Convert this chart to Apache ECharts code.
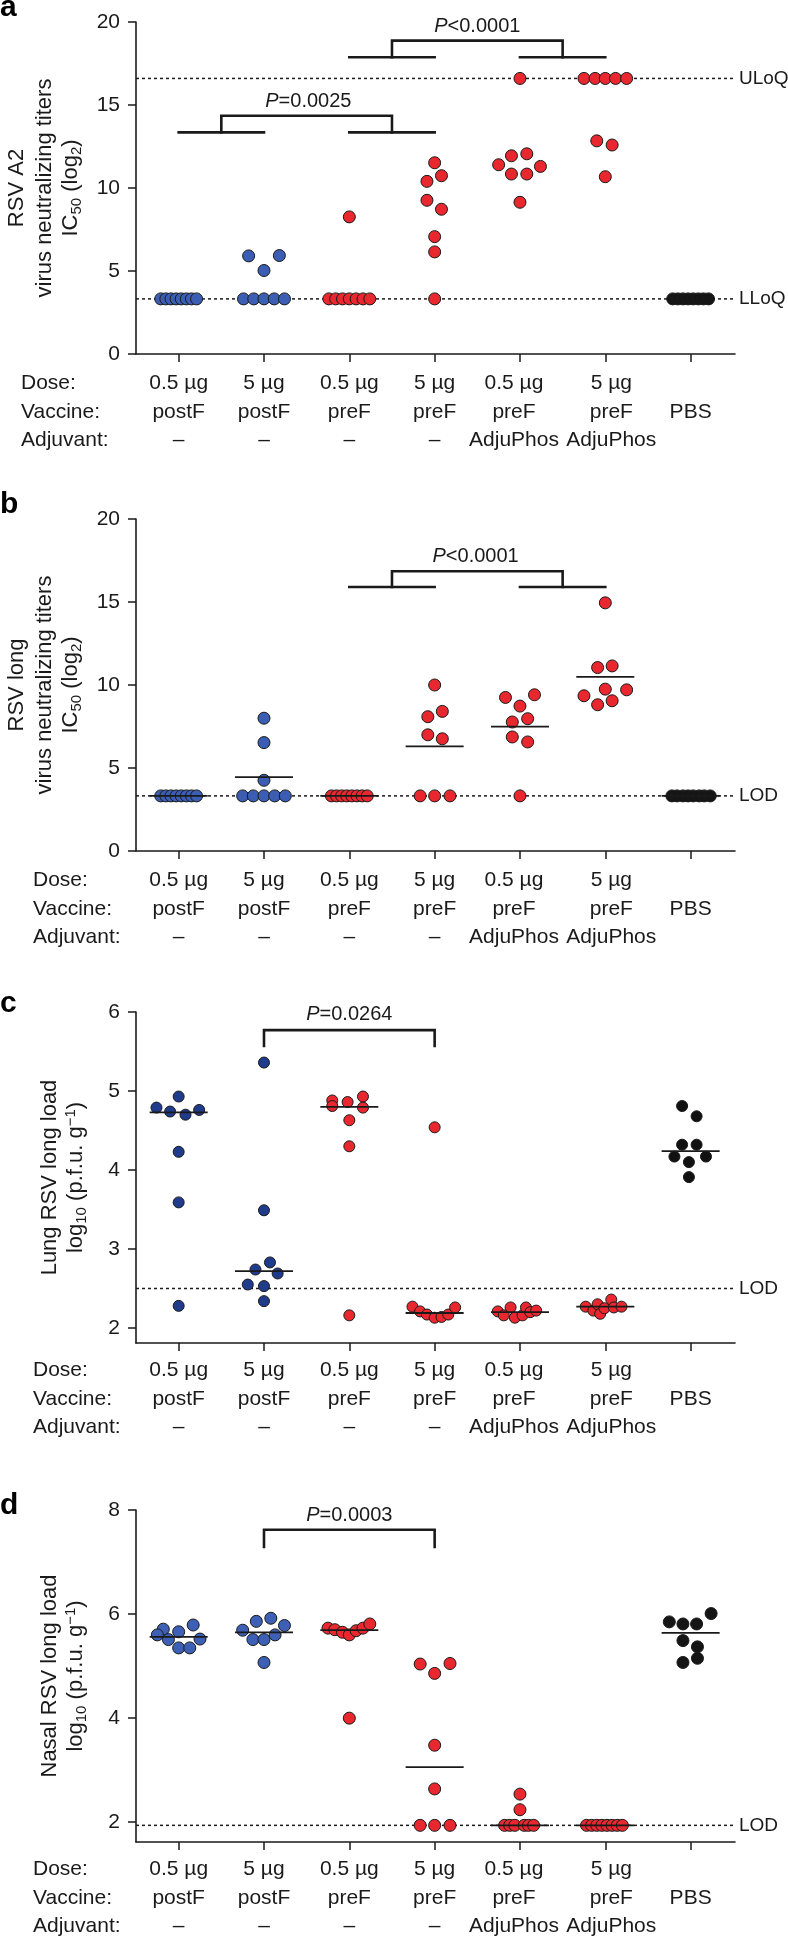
<!DOCTYPE html>
<html><head><meta charset="utf-8">
<script src="https://cdn.jsdelivr.net/npm/echarts@6/dist/echarts.min.js"></script>
<style>html,body{margin:0;padding:0;background:#fff}#c{width:788px;height:1936px}</style>
</head><body><div id="c"></div>
<script>
// ---------------- DATA ----------------
const doseLabels = ['0.5 µg', '5 µg', '0.5 µg', '5 µg', '0.5 µg', '5 µg', ''];
const vaccineLabels = ['postF', 'postF', 'preF', 'preF', 'preF', 'preF', 'PBS'];
const adjuvantLabels = ['–', '–', '–', '–', 'AdjuPhos', 'AdjuPhos', ''];
const rowHeaders = ['Dose:', 'Vaccine:', 'Adjuvant:'];
const groupColorKey = ['blue', 'blue', 'red', 'red', 'red', 'red', 'black'];

// panel a: RSV A2 neutralizing titers (log2)
const LLOQ_A = 3.32, ULOQ_A = 16.6;
const valuesA = [
  [3.32, 3.32, 3.32, 3.32, 3.32, 3.32, 3.32, 3.32],
  [5.91, 5.03, 5.93, 3.32, 3.32, 3.32, 3.32, 3.32],
  [8.26, 3.32, 3.32, 3.32, 3.32, 3.32, 3.32, 3.32],
  [11.52, 10.74, 10.4, 9.26, 8.72, 7.07, 6.15, 3.32],
  [16.6, 11.94, 12.06, 11.4, 10.84, 10.84, 11.3, 9.14],
  [16.6, 16.6, 16.6, 16.6, 16.6, 12.84, 12.59, 10.68],
  [3.32, 3.32, 3.32, 3.32, 3.32, 3.32, 3.32, 3.32]
];
const jitterA = [
  [-0.21, -0.15, -0.09, -0.03, 0.03, 0.09, 0.15, 0.21],
  [-0.18, 0, 0.18, -0.24, -0.12, 0, 0.12, 0.24],
  [0, -0.24, -0.16, -0.08, 0, 0.08, 0.16, 0.24],
  [0, 0.08, -0.09, -0.09, 0.08, 0, 0, 0],
  [0, -0.1, 0.08, -0.25, -0.1, 0.08, 0.24, 0],
  [-0.25, -0.12, 0, 0.12, 0.25, -0.1, 0.08, 0],
  [-0.21, -0.15, -0.09, -0.03, 0.03, 0.09, 0.15, 0.21]
];

// panel b: RSV long neutralizing titers (log2)
const LOD_B = 3.32;
const valuesB = [
  [3.32, 3.32, 3.32, 3.32, 3.32, 3.32, 3.32, 3.32],
  [8.0, 6.53, 4.26, 3.32, 3.32, 3.32, 3.32, 3.32],
  [3.32, 3.32, 3.32, 3.32, 3.32, 3.32, 3.32, 3.32],
  [10.0, 8.41, 8.09, 7.0, 6.76, 3.32, 3.32, 3.32],
  [9.25, 9.41, 8.73, 7.77, 7.97, 6.87, 6.57, 3.32],
  [14.95, 11.05, 11.15, 9.35, 9.75, 9.71, 8.81, 9.05],
  [3.32, 3.32, 3.32, 3.32, 3.32, 3.32, 3.32, 3.32]
];
const jitterB = [
  [-0.21, -0.15, -0.09, -0.03, 0.03, 0.09, 0.15, 0.21],
  [0, 0, 0, -0.25, -0.125, 0, 0.125, 0.25],
  [-0.21, -0.15, -0.09, -0.03, 0.03, 0.09, 0.15, 0.21],
  [0, 0.09, -0.08, -0.08, 0.09, -0.17, 0, 0.18],
  [-0.17, 0.17, 0, -0.09, 0.09, -0.09, 0.09, 0],
  [0, -0.09, 0.08, -0.25, 0, 0.25, -0.09, 0.08],
  [-0.22, -0.16, -0.09, -0.03, 0.03, 0.1, 0.16, 0.23]
];
const meansB = [3.32, 4.45, 3.32, 6.3, 7.49, 10.49, 3.32];

// panel c: lung RSV long load (log10 pfu/g)
const LOD_C = 2.5;
const valuesC = [
  [4.93, 4.79, 4.74, 4.70, 4.76, 4.23, 3.59, 2.28],
  [5.36, 3.49, 2.83, 2.74, 2.69, 2.55, 2.53, 2.34],
  [4.88, 4.81, 4.86, 4.93, 4.79, 4.63, 4.30, 2.16],
  [4.54, 2.27, 2.21, 2.17, 2.13, 2.14, 2.17, 2.26],
  [2.21, 2.16, 2.26, 2.13, 2.16, 2.26, 2.20, 2.22],
  [2.27, 2.22, 2.30, 2.18, 2.25, 2.36, 2.26, 2.27],
  [4.81, 4.68, 4.32, 4.32, 4.17, 4.17, 4.10, 3.91]
];
const jitterC = [
  [0, -0.26, -0.1, 0.08, 0.24, 0, 0, 0],
  [0, 0, 0.07, -0.1, 0.16, -0.19, 0, 0],
  [-0.2, -0.2, -0.02, 0.16, 0.16, 0, 0, 0],
  [0, -0.26, -0.17, -0.09, 0, 0.08, 0.16, 0.24],
  [-0.26, -0.19, -0.11, -0.06, 0.03, 0.07, 0.12, 0.19],
  [-0.23, -0.14, -0.09, -0.06, -0.01, 0.07, 0.1, 0.19],
  [-0.1, 0.07, -0.1, 0.07, -0.19, 0.18, -0.02, -0.02]
];
const mediansC = [4.73, 2.72, 4.80, 2.19, 2.20, 2.27, 4.24];

// panel d: nasal RSV long load (log10 pfu/g)
const LOD_D = 1.94;
const valuesD = [
  [5.71, 5.79, 5.60, 5.66, 5.51, 5.52, 5.35, 5.35],
  [5.86, 5.92, 5.69, 5.78, 5.51, 5.51, 5.60, 5.07],
  [5.73, 5.70, 5.65, 5.60, 5.68, 5.73, 5.81, 4.0],
  [5.04, 5.05, 4.86, 3.48, 2.64, 1.94, 1.94, 1.94],
  [2.54, 2.24, 1.94, 1.94, 1.94, 1.94, 1.94, 1.94],
  [1.94, 1.94, 1.94, 1.94, 1.94, 1.94, 1.94, 1.94],
  [5.85, 5.81, 5.81, 6.01, 5.49, 5.37, 5.07, 5.15]
];
const jitterD = [
  [-0.18, 0.17, -0.25, 0, -0.12, 0.25, 0, 0.13],
  [-0.09, 0.08, -0.25, 0.24, -0.13, 0, 0.13, 0],
  [-0.25, -0.17, -0.08, 0, 0.08, 0.16, 0.24, 0],
  [-0.17, 0.18, 0, 0, 0, -0.17, 0, 0.18],
  [0, 0, -0.18, -0.12, -0.06, 0.05, 0.1, 0.16],
  [-0.22, -0.16, -0.1, -0.04, 0.02, 0.08, 0.14, 0.2],
  [-0.25, -0.09, 0.07, 0.24, -0.09, 0.08, -0.09, 0.08]
];
const mediansD = [5.56, 5.65, 5.69, 3.06, 1.94, 1.94, 5.64];

// y-axis ticks
const yTicksAB = [0, 5, 10, 15, 20];
const yTicksC = [2, 3, 4, 5, 6];
const yTicksD = [2, 4, 6, 8];

// significance brackets (data units: category index, value)
const bracketsA = [
  [[0, 13.35], [1, 13.35]], [[2, 13.35], [3, 13.35]],
  [[0.5, 13.35], [0.5, 14.35], [2.5, 14.35], [2.5, 13.35]],
  [[2, 17.88], [3, 17.88]], [[4, 17.88], [5, 17.88]],
  [[2.5, 17.88], [2.5, 18.88], [4.5, 18.88], [4.5, 17.88]]
];
const pLabelsA = [{x: 1.52, y: 15.2, op: '=', v: '0.0025'}, {x: 3.5, y: 19.75, op: '<', v: '0.0001'}];
const bracketsB = [
  [[2, 15.9], [3, 15.9]], [[4, 15.9], [5, 15.9]],
  [[2.5, 15.9], [2.5, 16.85], [4.5, 16.85], [4.5, 15.9]]
];
const pLabelsB = [{x: 3.48, y: 17.75, op: '<', v: '0.0001'}];
const bracketsC = [[[1, 5.57], [1, 5.77], [3, 5.77], [3, 5.57]]];
const pLabelsC = [{x: 2, y: 5.97, op: '=', v: '0.0264'}];
const bracketsD = [[[1, 7.29], [1, 7.62], [3, 7.62], [3, 7.29]]];
const pLabelsD = [{x: 2, y: 7.9, op: '=', v: '0.0003'}];

// ---------------- STYLE / LAYOUT ----------------
const FONT = '"Liberation Sans", Arial, Helvetica, sans-serif';
const INK = '#1a1a1a';
const PALETTES = [
  {blue: '#3b5db3', red: '#e8272f', black: '#151515'},
  {blue: '#3b5db3', red: '#e8272f', black: '#151515'},
  {blue: '#1f3b8c', red: '#e8272f', black: '#111111'},
  {blue: '#3d60b6', red: '#e8272f', black: '#151515'}
];
const GRID_LEFT = 136, GRID_W = 599;
const X_MIN = -0.5, X_MAX = 6.52;
const ROW_H = 28.5;

const panels = [
  {letter: 'a', top: 22, height: 332, yMin: 0, yMax: 20, ticks: yTicksAB, values: valuesA, jitter: jitterA,
   centers: null, limits: [[ULOQ_A, 'ULoQ'], [LLOQ_A, 'LLoQ']], brackets: bracketsA, pLabels: pLabelsA,
   headerX: 21, margin: 15, letterY: 8, size: 12, titleX: [17, 45, 71],
   title: ['{n|RSV A2}', '{n|virus neutralizing titers}', '{n|IC}{s|50}{n| (log}{s|2}{n|)}']},
  {letter: 'b', top: 519, height: 332, yMin: 0, yMax: 20, ticks: yTicksAB, values: valuesB, jitter: jitterB,
   centers: meansB, limits: [[LOD_B, 'LOD']], brackets: bracketsB, pLabels: pLabelsB,
   headerX: 33, margin: 15, letterY: 505, size: 12, titleX: [17, 45, 71],
   title: ['{n|RSV long}', '{n|virus neutralizing titers}', '{n|IC}{s|50}{n| (log}{s|2}{n|)}']},
  {letter: 'c', top: 1012, height: 331, yMin: 1.81, yMax: 6, ticks: yTicksC, values: valuesC, jitter: jitterC,
   centers: mediansC, limits: [[LOD_C, 'LOD']], brackets: bracketsC, pLabels: pLabelsC,
   headerX: 33, margin: 13, letterY: 1004, size: 11, titleX: [50, 76],
   title: ['{n|Lung RSV long load}', '{n|log}{s|10}{n| (p.f.u. g}{p|−1}{n|)}']},
  {letter: 'd', top: 1510, height: 332, yMin: 1.62, yMax: 8, ticks: yTicksD, values: valuesD, jitter: jitterD,
   centers: mediansD, limits: [[LOD_D, 'LOD']], brackets: bracketsD, pLabels: pLabelsD,
   headerX: 33, margin: 13, letterY: 1506, size: 12, titleX: [50, 76],
   title: ['{n|Nasal RSV long load}', '{n|log}{s|10}{n| (p.f.u. g}{p|−1}{n|)}']}
];

const catIdx = [0, 1, 2, 3, 4, 5, 6];
function xLabelFormatter(value) {
  const k = Math.round(value);
  const t = k === 4 ? 'l' : (k === 5 ? 'r' : 'c');
  const f = s => '{' + t + '|' + (s === '' ? ' ' : s) + '}';
  return [f(doseLabels[k]), f(vaccineLabels[k]), f(adjuvantLabels[k])].join('\n');
}
const lblBase = {fontFamily: FONT, fontSize: 21, color: INK, lineHeight: ROW_H};

const grids = [], xAxes = [], yAxes = [], series = [], graphics = [];
const titleRich = {
  n: {fontFamily: FONT, fontSize: 22, lineHeight: 26, color: INK},
  s: {fontFamily: FONT, fontSize: 15, lineHeight: 12, verticalAlign: 'bottom', color: INK},
  p: {fontFamily: FONT, fontSize: 15, lineHeight: 16, verticalAlign: 'top', color: INK}
};

panels.forEach((p, i) => {
  grids.push({left: GRID_LEFT, top: p.top, width: GRID_W, height: p.height, containLabel: false, outerBoundsMode: 'none'});
  xAxes.push({
    type: 'value', gridIndex: i, min: X_MIN, max: X_MAX,
    splitLine: {show: false},
    axisLine: {show: true, onZero: false, lineStyle: {color: INK, width: 1.6}},
    axisTick: {show: true, customValues: catIdx, length: 8, inside: false, lineStyle: {color: INK, width: 1.5}},
    axisLabel: {
      show: true, customValues: catIdx, margin: p.margin, formatter: xLabelFormatter,
      fontFamily: FONT, fontSize: 21, color: INK, lineHeight: ROW_H,
      rich: {c: lblBase, l: Object.assign({}, lblBase, {padding: [0, 12, 0, 0]}), r: Object.assign({}, lblBase, {padding: [0, 0, 0, 12]})}
    }
  });
  yAxes.push({
    type: 'value', gridIndex: i, min: p.yMin, max: p.yMax,
    splitLine: {show: false},
    axisLine: {show: true, onZero: false, lineStyle: {color: INK, width: 1.6}},
    axisTick: {show: true, customValues: p.ticks, length: 8, lineStyle: {color: INK, width: 1.5}},
    axisLabel: {show: true, customValues: p.ticks, margin: 16, fontFamily: FONT, fontSize: 21, color: INK}
  });

  // limit (dotted) lines
  p.limits.forEach(([v, name]) => {
    series.push({
      type: 'line', xAxisIndex: i, yAxisIndex: i, z: 1, silent: true, animation: false,
      symbol: 'circle', symbolSize: 0, showSymbol: true, showAllSymbol: true, clip: false,
      lineStyle: {color: INK, width: 1.5, type: [3, 3]},
      itemStyle: {color: INK},
      data: [[X_MIN, v], {value: [X_MAX, v], label: {show: true, position: 'right', distance: 4, formatter: name,
        fontFamily: FONT, fontSize: 19, color: INK}}]
    });
  });

  // points
  const pal = PALETTES[i];
  const pts = [];
  p.values.forEach((grp, k) => {
    grp.forEach((v, j) => {
      pts.push({value: [k + p.jitter[k][j], v], itemStyle: {color: pal[groupColorKey[k]]}});
    });
  });
  series.push({
    type: 'scatter', xAxisIndex: i, yAxisIndex: i, z: 3, animation: false, silent: true,
    symbol: 'circle', symbolSize: p.size,
    itemStyle: {borderColor: '#1a1a1a', borderWidth: 1, opacity: 1},
    data: pts
  });

  // mean / median lines
  if (p.centers) {
    p.centers.forEach((m, k) => {
      series.push({
        type: 'line', xAxisIndex: i, yAxisIndex: i, z: 4, silent: true, animation: false, symbol: 'none',
        lineStyle: {color: INK, width: 1.8}, data: [[k - 0.34, m], [k + 0.34, m]]
      });
    });
  }

  // brackets
  p.brackets.forEach(path => {
    series.push({
      type: 'line', xAxisIndex: i, yAxisIndex: i, z: 4, silent: true, animation: false, symbol: 'none', clip: false,
      lineStyle: {color: INK, width: 2.6, cap: 'square', join: 'miter'}, data: path
    });
  });

  // P value labels
  series.push({
    type: 'scatter', xAxisIndex: i, yAxisIndex: i, z: 5, silent: true, animation: false, clip: false,
    symbol: 'circle', symbolSize: 0.01, itemStyle: {color: INK, opacity: 1},
    label: {show: true, position: 'inside', color: INK, opacity: 1, textBorderWidth: 0,
      formatter: prm => '{i|P}{n|' + prm.data.op + prm.data.v + '}',
      rich: {i: {fontFamily: FONT, fontSize: 20, fontStyle: 'italic', color: INK, textBorderWidth: 0},
             n: {fontFamily: FONT, fontSize: 20, color: INK, textBorderWidth: 0}}},
    data: p.pLabels.map(l => ({value: [l.x, l.y], op: l.op, v: l.v}))
  });

  // panel letter
  graphics.push({type: 'text', x: 0, y: p.letterY, silent: true,
    style: {text: p.letter, font: 'bold 30px ' + FONT, fill: '#000', align: 'left', verticalAlign: 'middle'}});

  // row headers
  const axisY = p.top + p.height;
  rowHeaders.forEach((h, r) => {
    graphics.push({type: 'text', x: p.headerX, y: axisY + p.margin + ROW_H / 2 + r * ROW_H, silent: true,
      style: {text: h, font: '21px ' + FONT, fill: INK, align: 'left', verticalAlign: 'middle'}});
  });

  // y-axis title lines (rotated)
  const cy = p.top + p.height / 2;
  p.title.forEach((t, r) => {
    graphics.push({type: 'text', x: p.titleX[r], y: cy, rotation: Math.PI / 2, silent: true,
      style: {text: t, rich: titleRich, font: '22px ' + FONT, fill: INK, align: 'center', verticalAlign: 'middle'}});
  });
});

const chart = echarts.init(document.getElementById('c'), null, {renderer: 'canvas'});
chart.setOption({
  animation: false,
  backgroundColor: '#ffffff',
  grid: grids, xAxis: xAxes, yAxis: yAxes, series: series, graphic: graphics
});
</script></body></html>
